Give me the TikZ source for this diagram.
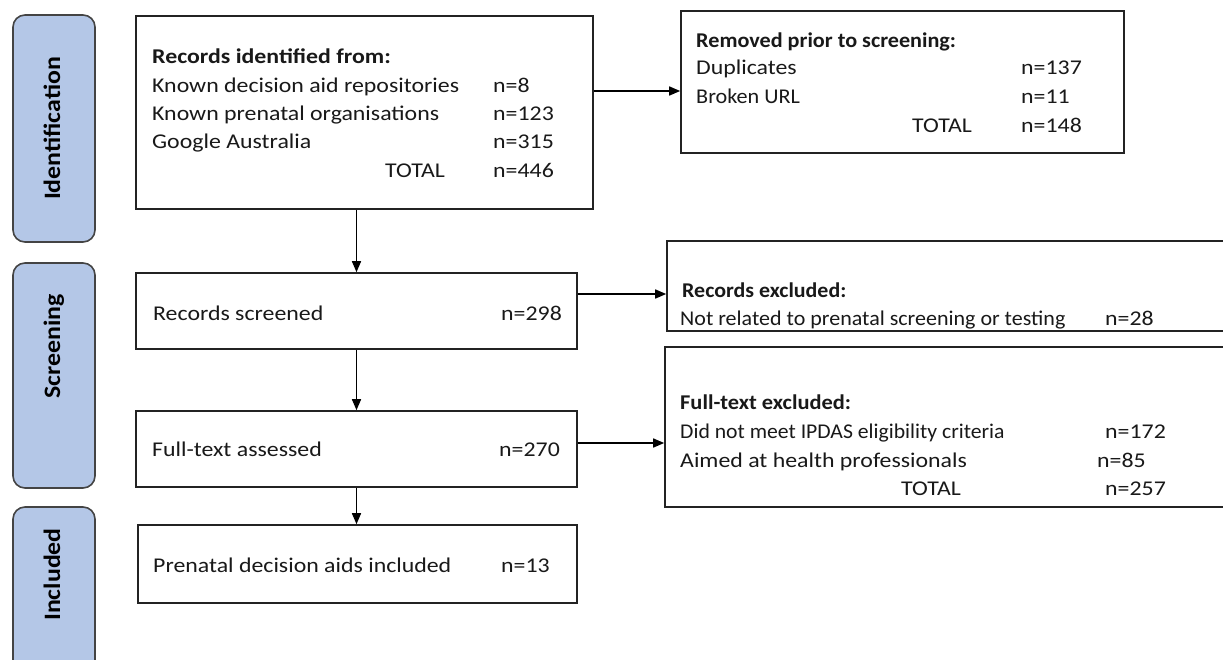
\documentclass[tikz,border=0pt]{standalone}
\usepackage{fontspec}
\usepackage{graphicx}
\setmainfont{Carlito}[FakeStretch=1.135]
\newfontfamily\sidefont{Carlito}[FakeStretch=1.1]
\usetikzlibrary{arrows.meta}
\definecolor{sideblue}{RGB}{180,199,231}
\definecolor{edgec}{RGB}{35,35,35}
\newcommand{\nar}[2]{\scalebox{#1}[1]{#2}}
\tikzset{
  box/.style={draw=edgec, line width=1.6pt, fill=white, inner sep=0pt, rectangle},
  side/.style={draw=edgec!85, line width=1.6pt, fill=sideblue, rounded corners=12pt, inner sep=0pt, rectangle},
  txt/.style={anchor=base west, inner sep=0pt, font=\fontsize{21}{25}\selectfont, text=black!90},
  btxt/.style={txt, font=\fontsize{21}{25}\selectfont\bfseries},
  sidetxt/.style={anchor=base, inner sep=0pt, rotate=90, font=\sidefont\fontsize{23.5}{26}\selectfont\bfseries},
  arr/.style={draw=black, line width=1.5pt, -{Triangle[length=11pt,width=9pt]}}
}
\begin{document}
\begin{tikzpicture}[x=1pt,y=-1pt]
\useasboundingbox (0,0) rectangle (1223,659);
\clip (0,0) rectangle (1223,659);
% side labels
\node[side, minimum width=82pt, minimum height=227pt] (sid) at (54,128.5) {};
\node[side, minimum width=82pt, minimum height=225pt] (sscr) at (54,375.5) {};
\node[side, minimum width=82pt, minimum height=173pt] (sinc) at (54,593.5) {};
\node[sidetxt] (lid) at (60,128.5) {Identification};
\node[sidetxt] (lscr) at (60,346.5) {Screening};
\node[sidetxt] (linc) at (60,574.5) {Included};
% boxes
\node[box, minimum width=457pt, minimum height=193pt] (id) at (364.5,112.5) {};
\node[box, minimum width=443pt, minimum height=142pt] (rem) at (902.5,82) {};
\node[box, minimum width=441pt, minimum height=76pt] (scr) at (356.5,311) {};
\node[box, minimum width=563pt, minimum height=90pt] (exc) at (948.5,286) {};
\node[box, minimum width=441pt, minimum height=76pt] (ft) at (356.5,449) {};
\node[box, minimum width=565pt, minimum height=160pt] (ftx) at (947.5,427) {};
\node[box, minimum width=439pt, minimum height=78pt] (inc) at (357.5,564) {};
% identification text
\node[btxt] (t1) at (152,63) {Records identified from:};
\node[txt] (t2) at (152,92) {Known decision aid repositories};
\node[txt] (t2n) at (493,92) {n=8};
\node[txt] (t3) at (152,120) {Known prenatal organisations};
\node[txt] (t3n) at (493,120) {n=123};
\node[txt] (t4) at (152,148) {Google Australia};
\node[txt] (t4n) at (493,148) {n=315};
\node[txt] (t5) at (385,177) {TOTAL};
\node[txt] (t5n) at (493,177) {n=446};
% removed
\node[btxt] (r1) at (696,47) {\nar{0.93}{Removed prior to screening:}};
\node[txt] (r2) at (696,74) {Duplicates};
\node[txt] (r2n) at (1021,74) {n=137};
\node[txt] (r3) at (696,103) {\nar{0.93}{Broken URL}};
\node[txt] (r3n) at (1021,103) {n=11};
\node[txt] (r4) at (912,132) {TOTAL};
\node[txt] (r4n) at (1021,132) {n=148};
% screened
\node[txt] (s1) at (153,320) {Records screened};
\node[txt] (s1n) at (501,320) {n=298};
\node[txt] (f1) at (152,456) {Full-text assessed};
\node[txt] (f1n) at (499,456) {n=270};
\node[txt] (i1) at (153,572) {Prenatal decision aids included};
\node[txt] (i1n) at (501,572) {n=13};
% excluded
\node[btxt] (e1) at (682,297) {\nar{0.92}{Records excluded:}};
\node[txt] (e2) at (680,325) {\nar{0.923}{Not related to prenatal screening or testing}};
\node[txt] (e2n) at (1105,325) {n=28};
\node[btxt] (x1) at (680,409) {\nar{0.94}{Full-text excluded:}};
\node[txt] (x2) at (680,438) {\nar{0.91}{Did not meet IPDAS eligibility criteria}};
\node[txt] (x2n) at (1105,438) {n=172};
\node[txt] (x3) at (680,467) {Aimed at health professionals};
\node[txt] (x3n) at (1097,467) {n=85};
\node[txt] (x4) at (901,495) {TOTAL};
\node[txt] (x4n) at (1105,495) {n=257};
% arrows
\draw[arr] (id.south -| scr.north) -- (scr.north);
\draw[arr] (scr.south) -- (ft.north);
\draw[arr] (ft.south) -- (ft.south |- inc.north);
\draw[arr] (id.east |- 0,91) -- (rem.west |- 0,91);
\draw[arr] (scr.east |- 0,294) -- (exc.west |- 0,294);
\draw[arr] (ft.east |- 0,443) -- (ftx.west |- 0,443);
\end{tikzpicture}
\end{document}
